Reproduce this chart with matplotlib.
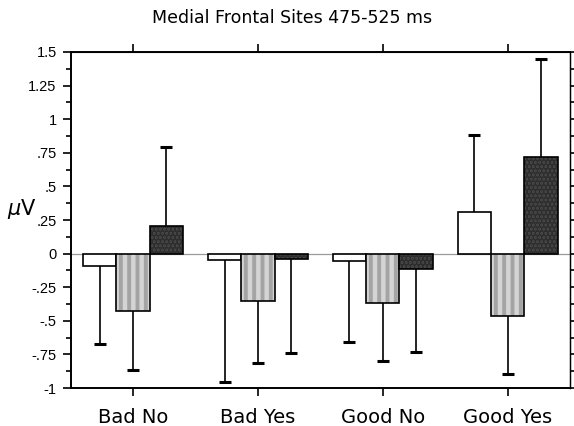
import numpy as np
import matplotlib
matplotlib.use('Agg')
import matplotlib.pyplot as plt

# data (means and one-sided error bar lengths)
groups = ['Bad No', 'Bad Yes', 'Good No', 'Good Yes']
white_mean   = [-0.095, -0.045, -0.055, 0.307]
white_err    = [0.58, 0.908, 0.60, 0.573]
striped_mean = [-0.43, -0.355, -0.37, -0.462]
striped_err  = [0.436, 0.455, 0.43, 0.436]
dark_mean    = [0.207, -0.04, -0.115, 0.721]
dark_err     = [0.583, 0.70, 0.615, 0.725]

ytick_vals   = [-1, -0.75, -0.5, -0.25, 0, 0.25, 0.5, 0.75, 1, 1.25, 1.5]
ytick_labels = ['-1', '-.75', '-.5', '-.25', '0', '.25', '.5', '.75', '1', '1.25', '1.5']

plt.rcParams['hatch.linewidth'] = 2.8

fig = plt.figure(figsize=(5.74, 4.26), dpi=100)
ax = fig.add_axes([0.123, 0.089, 0.870, 0.789])

x = np.arange(len(groups))
w = 0.267

series = [
    (white_mean, white_err, -w, 'white', None, None),
    (striped_mean, striped_err, 0, '#d4d4d4', '||', '#a4a4a4'),
    (dark_mean, dark_err, w, '#4a4a4a', '....', '#2c2c2c'),
]

ax.axhline(0, color='#9a9a9a', lw=0.9, zorder=1)

for mean, err, off, fc, hatch, hc in series:
    mean = np.asarray(mean)
    # error bar goes away from zero, cap only at the far end
    end = mean + np.sign(mean) * np.asarray(err)
    ax.vlines(x + off, mean, end, color='black', lw=1.2, zorder=2)
    ax.plot(x + off, end, ls='none', marker='_', ms=9, mew=2.2,
            color='black', zorder=2)
    bars = ax.bar(x + off, mean, w, color=fc, edgecolor='black',
                  linewidth=1.2, zorder=3)
    if hatch:
        for b in bars:
            b.set_hatch(hatch)
            b._hatch_color = matplotlib.colors.to_rgba(hc)

ax.set_xlim(-0.5, 3.5)
ax.set_ylim(-1, 1.5)

ax.set_yticks(ytick_vals)
ax.set_yticklabels(ytick_labels, fontsize=10.5, family='Liberation Sans')
ax.set_yticks(np.arange(-1, 1.51, 0.125), minor=True)
ax.tick_params(axis='y', which='major', length=6, width=1.2, pad=4)
ax.tick_params(axis='y', which='minor', length=3.5, width=1.2)

ax.set_xticks(x)
ax.set_xticklabels(groups, fontsize=14, family='DejaVu Sans')
ax.tick_params(axis='x', length=6, width=1.2, pad=8)

for s in ax.spines.values():
    s.set_linewidth(1.4)
ax.spines['right'].set_linewidth(1.0)

# unlabeled ticks on top and right
top = ax.secondary_xaxis('top')
top.set_xticks(x)
top.set_xticklabels([])
top.tick_params(length=6, width=1.2)

right = ax.secondary_yaxis('right')
right.set_yticks(np.arange(-1, 1.51, 0.125))
right.set_yticklabels([])
right.tick_params(length=4, width=1.2)

fig.text(0.509, 0.958, 'Medial Frontal Sites 475-525 ms', ha='center',
         va='center', fontsize=12.5, family='DejaVu Sans')
fig.text(0.012, 0.509, r'$\mu$V', ha='left', va='center', fontsize=15,
         family='DejaVu Sans')

fig.savefig('out.png', dpi=100)
